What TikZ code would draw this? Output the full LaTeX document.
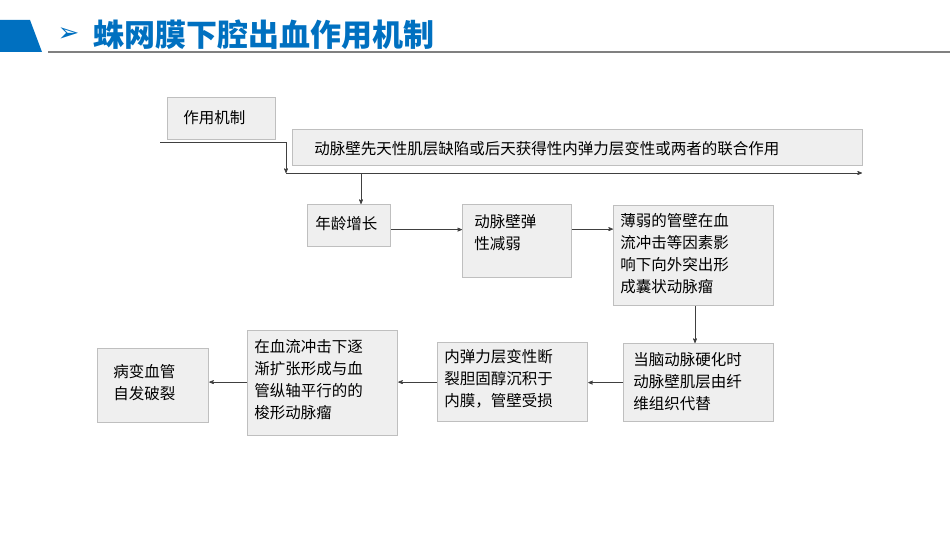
\documentclass[tikz,border=0pt]{standalone}
\usepackage{fontspec}
\newfontfamily\cjk{Noto Sans CJK SC}
\newfontfamily\symfont{DejaVu Sans}
\usetikzlibrary{arrows}
\definecolor{hdblue}{HTML}{0070C0}
\definecolor{boxfill}{HTML}{EFEFEF}
\definecolor{boxdraw}{HTML}{BFBFBF}
\begin{document}
\begin{tikzpicture}[x=1pt,y=-1pt,->,>=stealth',semithick,
    box/.style={draw=boxdraw,fill=boxfill,line width=1.2pt,anchor=north west,inner sep=0pt},
    txt/.style={anchor=north west,align=left,inner sep=0pt,font=\cjk\fontsize{15.5}{22}\selectfont},
    line/.style={draw=black!75,line width=0.7pt}]
    \path[use as bounding box] (0,0) rectangle (950,535);
    % header
    \fill[hdblue] (0,20) -- (30,20) -- (42,52) -- (0,52) -- cycle;
    \draw[-,gray,line width=1.5pt] (48,52) -- (950,52);
    \node[anchor=west,text=hdblue,font=\symfont\fontsize{26}{26}\selectfont] (arr) at (54,35) {➢};
    \node[anchor=west,text=hdblue,font=\cjk\bfseries\fontsize{31}{31}\selectfont] (title) at (90,35) {蛛网膜下腔出血作用机制};

    \node[box,minimum width=108,minimum height=42] (mech) at (167,97) {};
    \node[txt] at (183,110) {作用机制};
    \node[box,minimum width=570,minimum height=36] (cause) at (292,129) {};
    \node[txt] at (314,141) {动脉壁先天性肌层缺陷或后天获得性内弹力层变性或两者的联合作用};

    \coordinate (s0) at (160,142);
    \coordinate (s1) at (286,142);
    \coordinate (s2) at (286,173);
    \coordinate (s3) at (862,173);
    \coordinate (s4) at (361,173);
    \draw[line,-] (s0) -- (s1);
    \draw[line] (s1) -- (s2);
    \draw[line] (s2) -- (s3);

    \node[box,minimum width=83,minimum height=42] (age) at (307,204) {};
    \node[txt] at (315,216) {年龄增长};
    \node[box,minimum width=109,minimum height=73] (weak) at (462,204) {};
    \node[txt] at (474,214) {动脉壁弹\\性减弱};
    \node[box,minimum width=160,minimum height=100] (sac) at (613,205) {};
    \node[txt] at (620,213) {薄弱的管壁在血\\流冲击等因素影\\响下向外突出形\\成囊状动脉瘤};
    \node[box,minimum width=150,minimum height=78] (hard) at (623,343) {};
    \node[txt] at (633,352) {当脑动脉硬化时\\动脉壁肌层由纤\\维组织代替};
    \node[box,minimum width=150,minimum height=79] (lam) at (437,342) {};
    \node[txt] at (444,349) {内弹力层变性断\\裂胆固醇沉积于\\内膜，管壁受损};
    \node[box,minimum width=150,minimum height=105] (fus) at (247,330) {};
    \node[txt] at (254,339) {在血流冲击下逐\\渐扩张形成与血\\管纵轴平行的的\\梭形动脉瘤};
    \node[box,minimum width=111,minimum height=74] (rup) at (97,348) {};
    \node[txt] at (113,364) {病变血管\\自发破裂};

    \draw[line] (s4) -- (age.north -| s4);
    \draw[line] (age.east) ++(0,4) coordinate (a1) -- (a1 -| weak.west);
    \draw[line] (weak.east) ++(0,-12) coordinate (a2) -- (a2 -| sac.west);
    \draw[line] (sac.south -| 695,0) coordinate (a3) -- (a3 |- hard.north);
    \draw[line] (hard.west) -- (hard.west -| lam.east);
    \draw[line] (lam.west) -- (lam.west -| fus.east);
    \draw[line] (fus.west) ++(0,-1) coordinate (a4) -- (a4 -| rup.east);
\end{tikzpicture}
\end{document}
